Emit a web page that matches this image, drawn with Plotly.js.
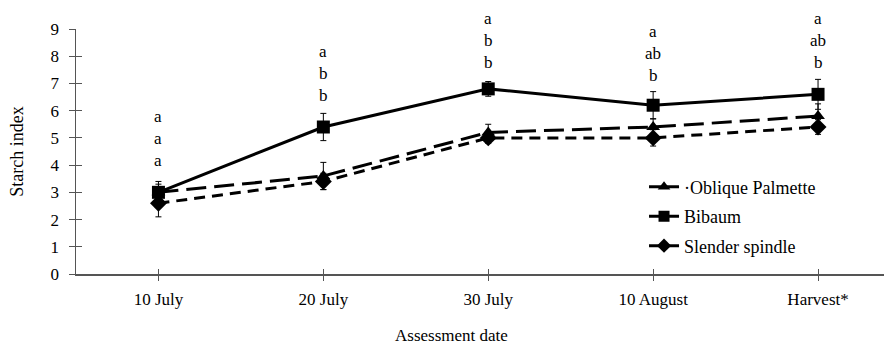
<!DOCTYPE html>
<html>
<head>
<meta charset="utf-8">
<script src="https://cdn.plot.ly/plotly-3.0.1.min.js"></script>
<style>html,body{margin:0;padding:0;background:#fff;}#chart{width:888px;height:345px;}</style>
</head>
<body>
<div id="chart"></div>
<script>
const dates = ["10 July", "20 July", "30 July", "10 August", "Harvest*"];
const seriesNames = ["·Oblique Palmette", "Bibaum", "Slender spindle"];
const obliquePalmette = [3.0, 3.6, 5.2, 5.4, 5.8];
const obliquePalmetteErr = [0.3, 0.5, 0.3, 0.3, 0.45];
const bibaum = [3.0, 5.4, 6.8, 6.2, 6.6];
const bibaumErr = [0.4, 0.5, 0.27, 0.5, 0.55];
const slenderSpindle = [2.6, 3.4, 5.0, 5.0, 5.4];
const slenderSpindleErr = [0.5, 0.3, 0.2, 0.3, 0.27];
// significance letters per date, top to bottom (Bibaum, Oblique Palmette, Slender spindle)
const letters = [["a","a","a"], ["a","b","b"], ["a","b","b"], ["a","ab","b"], ["a","ab","b"]];
const letterTopY = [5.77, 8.16, 9.37, 8.9, 9.37];
const yTicks = [0,1,2,3,4,5,6,7,8,9];
const xTitle = "Assessment date";
const yTitle = "Starch index";

const FONT = "'Liberation Serif', 'Times New Roman', Times, serif";
const xIdx = dates.map((d, i) => i);
const YMAX = 9;

function trace(name, y, err, dash, symbol, size) {
  return {
    x: xIdx, y: y, name: name, type: "scatter", mode: "lines+markers", showlegend: false,
    line: {color: "#000", width: 3, dash: dash},
    marker: {color: "#000", symbol: symbol, size: size},
    error_y: {type: "data", array: err, visible: true, color: "#000", thickness: 1, width: 3}
  };
}
function legendTrace(name, symbol, size, grp) {
  return {
    x: [null], y: [null], name: name, type: "scatter", mode: "lines+markers", legendgroup: grp,
    line: {color: "#000", width: 3, dash: "solid"},
    marker: {color: "#000", symbol: symbol, size: size}
  };
}

const data = [
  trace(seriesNames[0], obliquePalmette, obliquePalmetteErr, "20px,8px", "triangle-up", 12),
  trace(seriesNames[1], bibaum, bibaumErr, "solid", "square", 13),
  trace(seriesNames[2], slenderSpindle, slenderSpindleErr, "11px,7px", "diamond", 13),
  legendTrace(seriesNames[0], "triangle-up", 11, "g1"),
  legendTrace(seriesNames[1], "square", 11, "g2"),
  legendTrace(seriesNames[2], "diamond", 11, "g3")
];

const annotations = [];
letters.forEach((col, i) => {
  col.forEach((l, r) => {
    annotations.push({
      x: i, y: letterTopY[i] / YMAX, xref: "x", yref: "paper", text: l, showarrow: false,
      yanchor: "middle", xanchor: "center", yshift: -22 * r,
      font: {family: FONT, size: 17, color: "#000"}
    });
  });
});
annotations.push({
  x: 0.465, y: -0.249, xref: "paper", yref: "paper", text: xTitle, showarrow: false,
  xanchor: "center", yanchor: "middle", font: {family: FONT, size: 17, color: "#000"}
});

const layout = {
  width: 888, height: 345,
  margin: {l: 76, r: 4, t: 29, b: 71},
  paper_bgcolor: "#fff", plot_bgcolor: "#fff",
  font: {family: FONT, size: 16, color: "#000"},
  showlegend: true,
  legend: {x: 0.703, y: 0.43, xanchor: "left", yanchor: "top", bgcolor: "rgba(0,0,0,0)",
           font: {family: FONT, size: 18, color: "#000"}, tracegroupgap: 3},
  xaxis: {
    range: [-0.5, 4.4], tickmode: "array", tickvals: xIdx, ticktext: dates,
    showgrid: false, zeroline: false, showline: true, linecolor: "#555", linewidth: 1.5,
    ticks: "outside", ticklen: 5, tickcolor: "#555", tickwidth: 1, ticklabelstandoff: 4,
    tickfont: {family: FONT, size: 17, color: "#000"}
  },
  yaxis: {
    range: [0, YMAX], tickmode: "array", tickvals: yTicks,
    showgrid: false, zeroline: false, showline: true, linecolor: "#555", linewidth: 1.5,
    ticks: "outside", ticklen: 6, tickcolor: "#555", tickwidth: 1, ticklabelstandoff: 6,
    tickfont: {family: FONT, size: 17, color: "#000"},
    title: {text: yTitle, font: {family: FONT, size: 18, color: "#000"}, standoff: 22}
  },
  xaxis2: {overlaying: "x", matches: "x", range: [-0.5, 4.4], tickmode: "array", tickvals: xIdx,
           showticklabels: false, showgrid: false, zeroline: false, ticks: "inside", ticklen: 5,
           tickcolor: "#555", tickwidth: 1, side: "bottom", anchor: "y"},
  yaxis2: {overlaying: "y", range: [0, YMAX], tickmode: "array", tickvals: yTicks,
           showticklabels: false, showgrid: false, zeroline: false, ticks: "inside", ticklen: 6,
           tickcolor: "#555", tickwidth: 1, side: "left", anchor: "x"},
  annotations: annotations
};

data.push({x: [0], y: [null], xaxis: "x2", yaxis: "y2", type: "scatter", mode: "markers",
           showlegend: false, hoverinfo: "skip"});

Plotly.newPlot("chart", data, layout, {staticPlot: true, displayModeBar: false});
</script>
</body>
</html>
